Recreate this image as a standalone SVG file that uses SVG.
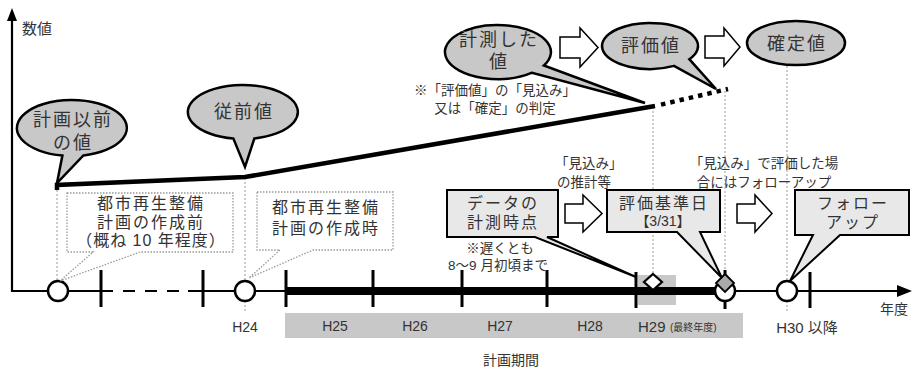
<svg xmlns="http://www.w3.org/2000/svg" width="912" height="369" viewBox="0 0 912 369">
<style>
text{font-family:"Liberation Sans","Noto Sans CJK JP",sans-serif;fill:#333}
.bub{fill:#c8c8c8;stroke:#000;stroke-width:2.5}
.box{fill:#e8e8e8;stroke:#000;stroke-width:2}
.dbox{fill:#fff;stroke:#999;stroke-width:1.3;stroke-dasharray:1.5 1.5}
.harrow{fill:#fff;stroke:#000;stroke-width:1.5}
.vdot{stroke:#999;stroke-width:1;stroke-dasharray:2 2;fill:none}
.tick{stroke:#000;stroke-width:3}
.big{font-size:18px;letter-spacing:2px}
.mid{font-size:16px;letter-spacing:2px}
.note{font-size:13.5px}
.ax{font-size:14px}
</style>
<defs>
<marker id="ah" markerWidth="10" markerHeight="10" refX="9" refY="5" orient="auto" markerUnits="userSpaceOnUse">
<path d="M0 0 L10 5 L0 10 Z" fill="#000"/>
</marker>
</defs>

<!-- background bands -->
<rect x="285" y="313" width="458" height="25" fill="#c8c8c8"/>
<rect x="638" y="275" width="38" height="30" fill="#c8c8c8"/>

<g id="connectors">
<!-- vertical dotted guides -->
<line class="vdot" x1="57" y1="186" x2="57" y2="281"/>
<line class="vdot" x1="245" y1="178" x2="245" y2="281"/>
<line class="vdot" x1="245" y1="301" x2="245" y2="313"/>
<line class="vdot" x1="653" y1="107" x2="653" y2="274"/>
<line class="vdot" x1="725" y1="91" x2="725" y2="272"/>
<line class="vdot" x1="787" y1="66" x2="787" y2="281"/>
<line class="vdot" x1="787" y1="301" x2="787" y2="313"/>
<!-- axes -->
<line x1="12" y1="292" x2="12" y2="18" stroke="#000" stroke-width="2.2"/>
<path d="M12 8 L7 21 L17 21 Z" fill="#000"/>
<line x1="11" y1="291" x2="113" y2="291" stroke="#000" stroke-width="2.2"/>
<line x1="123" y1="291" x2="182" y2="291" stroke="#000" stroke-width="2.2" stroke-dasharray="12 10"/>
<line x1="188" y1="291" x2="898" y2="291" stroke="#000" stroke-width="2.2"/>
<path d="M912 291 L897 285 L897 297 Z" fill="#000"/>
<line x1="285" y1="291" x2="716" y2="291" stroke="#000" stroke-width="8"/>
<!-- ticks -->
<line class="tick" x1="101" y1="270" x2="101" y2="307"/>
<line class="tick" x1="203" y1="270" x2="203" y2="307"/>
<line class="tick" x1="286" y1="270" x2="286" y2="307"/>
<line class="tick" x1="373" y1="270" x2="373" y2="307"/>
<line class="tick" x1="462" y1="270" x2="462" y2="307"/>
<line class="tick" x1="547" y1="270" x2="547" y2="307"/>
<line class="tick" x1="636" y1="272" x2="636" y2="308"/>
<line class="tick" x1="810" y1="272" x2="810" y2="308"/>
<!-- value line -->
<polyline points="57,190 57,185 245,177 655,106" fill="none" stroke="#000" stroke-width="4.5" stroke-linejoin="miter"/>
<line x1="661" y1="104.6" x2="728" y2="89" stroke="#000" stroke-width="4.5" stroke-dasharray="4.5 5"/>
</g>

<!-- timeline markers -->
<g id="marker-start"><circle cx="58" cy="291" r="10" fill="#fff" stroke="#000" stroke-width="2.5"/></g>
<g id="marker-h24"><circle cx="245" cy="291" r="10" fill="#fff" stroke="#000" stroke-width="2.5"/></g>
<g id="marker-measure"><polygon points="653,274 662,282 653,290 644,282" fill="#fff" stroke="#000" stroke-width="2.2"/></g>
<g id="marker-eval">
<line class="tick" x1="725" y1="270" x2="725" y2="309"/>
<circle cx="725" cy="291" r="10" fill="#fff" stroke="#000" stroke-width="2.5"/>
<polygon points="725,274 734,283 725,292 716,283" fill="#aaa" stroke="#000" stroke-width="1.8"/>
</g>
<g id="marker-h30"><circle cx="787" cy="291" r="10" fill="#fff" stroke="#000" stroke-width="2.5"/></g>

<!-- bubbles -->
<g id="bubble-before">
<path class="bub" d="M83.4 155.4 A55 28 0 1 0 62.4 155.6 L57 183 Z"/>
<text class="big" x="73" y="126" text-anchor="middle">計画以前</text>
<text class="big" x="73" y="149" text-anchor="middle">の値</text>
</g>
<g id="bubble-previous">
<path class="bub" d="M254.4 138.4 A55 27 0 1 0 233.4 138.6 L245 167 Z"/>
<text class="big" x="244" y="118" text-anchor="middle">従前値</text>
</g>
<g id="bubble-measured">
<path class="bub" d="M532.1 72.7 A53 27 0 1 1 543.9 65.5 L645 103 Z"/>
<text class="big" x="499" y="46" text-anchor="middle">計測した</text>
<text class="big" x="499" y="68" text-anchor="middle">値</text>
</g>
<g id="bubble-eval">
<path class="bub" d="M674 65.9 A48 23 0 1 1 689.3 59.2 L716 89 Z"/>
<text class="big" x="651" y="52" text-anchor="middle">評価値</text>
</g>
<g id="bubble-final">
<ellipse class="bub" cx="796" cy="43" rx="49" ry="22"/>
<text class="big" x="797" y="50" text-anchor="middle">確定値</text>
</g>

<!-- hollow arrows -->
<g id="arrow-1"><path class="harrow" d="M560 37 H580 V28 L598 47.5 L580 67 V58 H560 Z"/></g>
<g id="arrow-2"><path class="harrow" d="M705 36 H724 V28 L740 47 L724 66 V58 H705 Z"/></g>
<g id="arrow-3"><path class="harrow" d="M565 204 H583 V195 L602 213.5 L583 232 V223 H565 Z"/></g>
<g id="arrow-4"><path class="harrow" d="M737 204 H755 V195 L772 213.5 L755 232 V223 H737 Z"/></g>

<!-- dotted boxes -->
<g id="box-before">
<path class="dbox" d="M67 193 H233 V252 H140 L60 281 L93 252 H67 Z"/>
<text class="mid" x="151" y="209" text-anchor="middle">都市再生整備</text>
<text class="mid" x="151" y="228" text-anchor="middle">計画の作成前</text>
<text class="mid" x="151" y="246" text-anchor="middle" style="letter-spacing:1px">（概ね 10 年程度）</text>
</g>
<g id="box-h24">
<path class="dbox" d="M257 192 H393 V250 H313 L249 278 L280 250 H257 Z"/>
<text class="mid" x="326" y="213" text-anchor="middle">都市再生整備</text>
<text class="mid" x="326" y="234" text-anchor="middle">計画の作成時</text>
</g>

<!-- solid boxes -->
<g id="box-data">
<path class="box" d="M447 190 H558 V237 H547 L636 277 L535 237 H447 Z"/>
<text class="mid" x="503" y="209" text-anchor="middle">データの</text>
<text class="mid" x="503" y="228" text-anchor="middle">計測時点</text>
</g>
<g id="box-evaldate">
<path class="box" d="M607 190 H720 V232 H700 L722 278 L677 232 H607 Z"/>
<text class="mid" x="664" y="209" text-anchor="middle">評価基準日</text>
<text x="663" y="226" text-anchor="middle" style="font-size:14px">【3/31】</text>
</g>
<g id="box-follow">
<path class="box" d="M795 190 H909 V235 H840 L790 281 L813 235 H795 Z"/>
<text class="mid" x="853" y="209" text-anchor="middle">フォロー</text>
<text class="mid" x="853" y="228" text-anchor="middle">アップ</text>
</g>

<!-- notes -->
<g id="notes">
<text class="note" x="495" y="95" text-anchor="middle">※「評価値」の「見込み」</text>
<text class="note" x="495" y="113" text-anchor="middle">又は「確定」の判定</text>
<text class="note" x="555" y="168">「見込み」</text>
<text class="note" x="557" y="187">の推計等</text>
<text class="note" x="500" y="253" text-anchor="middle">※遅くとも</text>
<text class="note" x="498" y="270" text-anchor="middle">8～9 月初頃まで</text>
<text class="note" x="764" y="168" text-anchor="middle">「見込み」で評価した場</text>
<text class="note" x="764" y="187" text-anchor="middle">合にはフォローアップ</text>
</g>

<!-- axis labels -->
<g id="labels">
<text x="22" y="34" style="font-size:15px">数値</text>
<text class="ax" x="245" y="332" text-anchor="middle">H24</text>
<text class="ax" x="335" y="331" text-anchor="middle">H25</text>
<text class="ax" x="415" y="331" text-anchor="middle">H26</text>
<text class="ax" x="500" y="331" text-anchor="middle">H27</text>
<text class="ax" x="590" y="331" text-anchor="middle">H28</text>
<text x="638" y="332" style="font-size:15px">H29</text>
<text x="670" y="331" style="font-size:10px">(最終年度)</text>
<text x="807" y="333" text-anchor="middle" style="font-size:15px">H30 以降</text>
<text class="ax" x="880" y="314">年度</text>
<text class="ax" x="511" y="365" text-anchor="middle">計画期間</text>
</g>
</svg>
